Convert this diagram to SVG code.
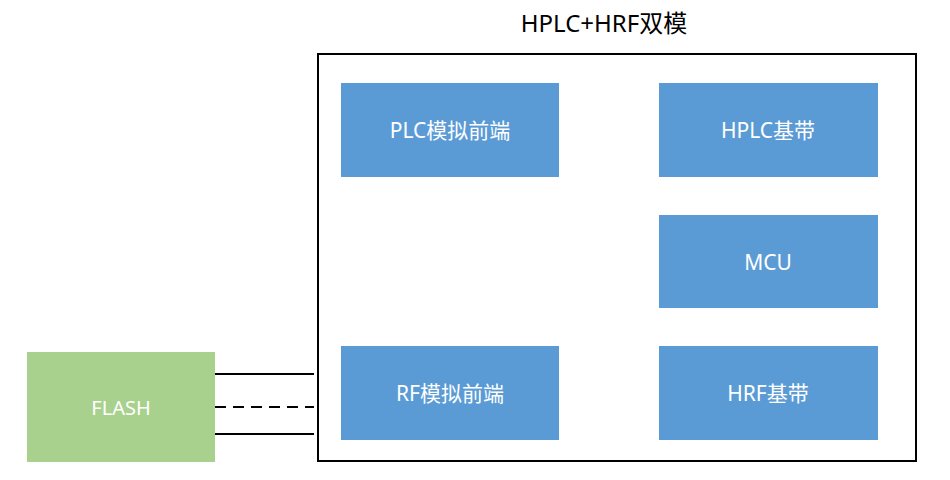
<svg xmlns="http://www.w3.org/2000/svg" width="950" height="480" viewBox="0 0 950 480">
<style>
text{font-family:"Noto Sans","Noto Sans CJK SC",sans-serif;text-anchor:middle;dominant-baseline:central}
.blk{fill:#5B9BD5}
.lbl{fill:#fff;font-size:21px}
.ln{stroke:#000;stroke-width:1.8;fill:none}
</style>
<rect width="950" height="480" fill="#fff"/>
<g id="module">
<rect x="318" y="54" width="598" height="407" fill="none" stroke="#000" stroke-width="2"/>
<text x="604" y="22" font-size="24" fill="#000">HPLC+HRF双模</text>
</g>
<g id="plc-afe"><rect class="blk" x="341" y="83" width="218" height="94"/><text class="lbl" x="450" y="130">PLC模拟前端</text></g>
<g id="hplc-bb"><rect class="blk" x="659" y="83" width="219" height="94"/><text class="lbl" x="768" y="130">HPLC基带</text></g>
<g id="mcu"><rect class="blk" x="659" y="215" width="219" height="93"/><text class="lbl" x="768" y="262">MCU</text></g>
<g id="rf-afe"><rect class="blk" x="341" y="346" width="218" height="94"/><text class="lbl" x="450" y="393">RF模拟前端</text></g>
<g id="hrf-bb"><rect class="blk" x="659" y="346" width="219" height="94"/><text class="lbl" x="768" y="393">HRF基带</text></g>
<g id="flash"><rect x="27" y="352" width="188" height="110" fill="#A9D18E"/><text class="lbl" x="121" y="407" style="font-size:20px">FLASH</text></g>
<g id="connectors">
<line class="ln" x1="215" y1="374" x2="314" y2="374"/>
<line class="ln" x1="215" y1="407" x2="314" y2="407" stroke-dasharray="11,7"/>
<line class="ln" x1="215" y1="434" x2="314" y2="434"/>
</g>
</svg>
